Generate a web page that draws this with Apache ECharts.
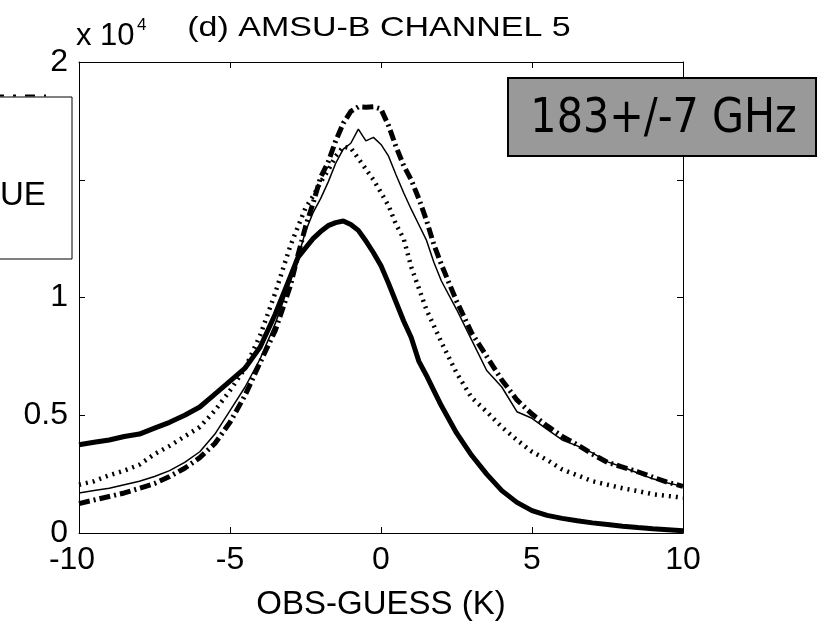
<!DOCTYPE html>
<html>
<head>
<meta charset="utf-8">
<script src="https://cdn.jsdelivr.net/npm/echarts@6/dist/echarts.min.js"></script>
<style>
html,body{margin:0;padding:0;background:#fff;}
#c{width:817px;height:626px;}
</style>
</head>
<body>
<div id="c"></div>
<script>
// OBS-GUESS (K)
var xs = [-10,-9.5,-9,-8.5,-8,-7.5,-7,-6.5,-6,-5.5,-5,-4.5,-4,-3.5,-3,
  -2.75,-2.5,-2.25,-2,-1.75,-1.5,-1.25,-1,-0.75,-0.5,-0.25,0,0.25,0.5,0.75,1,1.25,1.5,1.75,2,
  2.5,3,3.5,4,4.5,5,5.5,6,6.5,7,7.5,8,8.5,9,9.5,10];
// counts in units of 10^4
var thickSolid = [0.375,0.385,0.395,0.41,0.42,0.445,0.47,0.50,0.535,0.59,0.645,0.70,0.79,0.93,1.09,
  1.17,1.21,1.25,1.28,1.305,1.318,1.325,1.31,1.285,1.24,1.19,1.135,1.06,0.98,0.90,0.83,0.73,0.67,0.605,0.54,
  0.425,0.33,0.25,0.18,0.13,0.095,0.075,0.062,0.052,0.043,0.036,0.029,0.023,0.018,0.014,0.01];
var thinSolid = [0.17,0.18,0.19,0.205,0.22,0.24,0.265,0.30,0.345,0.42,0.52,0.62,0.74,0.89,1.07,
  1.17,1.28,1.36,1.42,1.49,1.57,1.63,1.655,1.715,1.665,1.68,1.65,1.60,1.52,1.445,1.375,1.31,1.245,1.15,1.07,
  0.95,0.82,0.69,0.62,0.515,0.487,0.44,0.395,0.37,0.34,0.302,0.28,0.255,0.23,0.212,0.198];
var dotted = [0.205,0.22,0.245,0.265,0.29,0.335,0.37,0.41,0.45,0.52,0.605,0.70,0.84,1.02,1.22,
  1.30,1.38,1.43,1.49,1.54,1.60,1.64,1.635,1.59,1.545,1.50,1.445,1.39,1.31,1.25,1.13,1.04,0.95,0.88,0.81,
  0.68,0.575,0.515,0.45,0.395,0.345,0.31,0.27,0.245,0.22,0.205,0.19,0.178,0.165,0.157,0.15];
var dashDot = [0.125,0.14,0.155,0.17,0.19,0.21,0.24,0.275,0.32,0.38,0.47,0.585,0.725,0.86,1.05,
  1.18,1.30,1.40,1.51,1.575,1.665,1.74,1.79,1.81,1.808,1.81,1.80,1.73,1.64,1.56,1.50,1.42,1.33,1.225,1.14,
  0.985,0.85,0.75,0.65,0.565,0.505,0.455,0.41,0.375,0.335,0.30,0.28,0.26,0.237,0.215,0.198];
var xTicks = [-10,-5,0,5,10];
var yTicks = [0,0.5,1,1.5,2];
var titleText = '(d) AMSU-B CHANNEL 5';
var xName = 'OBS-GUESS (K)';
var boxText = '183+/-7 GHz';
var legendText = 'UE';

function pairs(ys){ return xs.map(function(x,i){ return [x, ys[i]]; }); }

var F = '"Liberation Sans", Arial, sans-serif';
var chart = echarts.init(document.getElementById('c'), null, {renderer:'canvas'});
function axisCommon(){
  return {
    axisLine:{show:true, onZero:false, lineStyle:{color:'#000', width:1}},
    axisTick:{show:true, inside:true, length:6, lineStyle:{color:'#000', width:1}},
    splitLine:{show:false}
  };
}
chart.setOption({
  animation:false,
  backgroundColor:'#fff',
  grid:{left:79, right:134, top:62, bottom:87},
  xAxis:[
    Object.assign({type:'value', min:-10, max:10, interval:5, position:'bottom',
      name:xName, nameLocation:'middle', nameGap:55,
      nameTextStyle:{fontFamily:F, fontSize:33, color:'#000'},
      axisLabel:{fontFamily:F, fontSize:32, color:'#000', margin:11,
        rich:{first:{fontFamily:F, fontSize:32, color:'#000', padding:[0,14,0,0]}},
        formatter:function(v){
          if (xTicks.indexOf(v) < 0) return '';
          return v === xTicks[0] ? '{first|' + v + '}' : String(v);
        }}}, axisCommon()),
    Object.assign({type:'value', min:-10, max:10, interval:5, position:'top',
      axisLabel:{show:false}}, axisCommon())
  ],
  yAxis:[
    Object.assign({type:'value', min:0, max:2, interval:0.5, position:'left',
      axisLabel:{fontFamily:F, fontSize:32, color:'#000', margin:11,
        formatter:function(v){ return yTicks.indexOf(v)>=0 ? String(v) : ''; }}}, axisCommon()),
    Object.assign({type:'value', min:0, max:2, interval:0.5, position:'right',
      axisLabel:{show:false}}, axisCommon())
  ],
  series:[
    {type:'line', data:pairs(thickSolid), showSymbol:false, lineStyle:{color:'#000', width:5}, z:3},
    {type:'line', data:pairs(thinSolid), showSymbol:false, lineStyle:{color:'#000', width:1.5}, z:3},
    {type:'line', data:pairs(dotted), showSymbol:false, lineStyle:{color:'#000', width:4.5, type:[2,5]}, z:3},
    {type:'line', data:pairs(dashDot), showSymbol:false, lineStyle:{color:'#000', width:5, type:[11,4,2,4]}, z:3}
  ],
  graphic:[
    {type:'text', x:379, y:28.5, scaleY:0.8, z:100,
      style:{text:titleText, font:'34px ' + F, fill:'#000', textAlign:'center', textVerticalAlign:'middle'}},
    {type:'text', x:76, y:36, z:100,
      style:{text:'x 10', font:'31px ' + F, fill:'#000', textAlign:'left', textVerticalAlign:'middle'}},
    {type:'text', x:137, y:25, z:100,
      style:{text:'4', font:'17px ' + F, fill:'#000', textAlign:'left', textVerticalAlign:'middle'}},
    {type:'line', z:100, shape:{x1:-6, y1:95.5, x2:46, y2:95.5},
      style:{stroke:'#000', lineWidth:2, lineDash:[10,9,3,9]}},
    {type:'rect', z:100, shape:{x:-2, y:97, width:74, height:162},
      style:{fill:'#fff', stroke:'#000', lineWidth:1}},
    {type:'text', x:0, y:195.5, z:101,
      style:{text:legendText, font:'33px ' + F, fill:'#000', textAlign:'left', textVerticalAlign:'middle'}},
    {type:'rect', z:100, shape:{x:508, y:78, width:308, height:78},
      style:{fill:'#999999', stroke:'#000', lineWidth:2}},
    {type:'text', x:663.5, y:119.5, scaleX:0.86, z:101,
      style:{text:boxText, font:'48px "DejaVu Sans", sans-serif', fill:'#000', textAlign:'center', textVerticalAlign:'middle'}}
  ]
});
</script>
</body>
</html>
